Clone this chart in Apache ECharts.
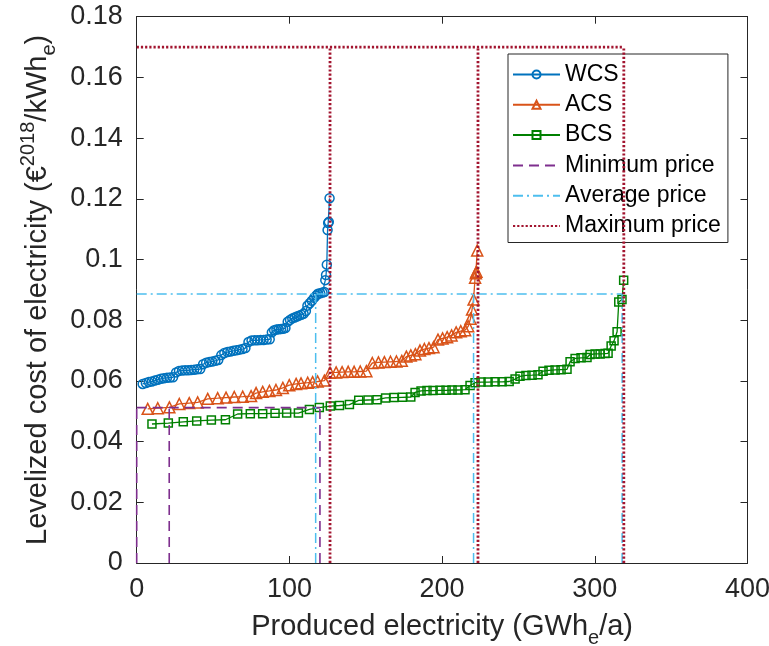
<!DOCTYPE html>
<html>
<head>
<meta charset="utf-8">
<script src="https://cdn.jsdelivr.net/npm/echarts@6/dist/echarts.min.js"></script>
<style>
html,body{margin:0;padding:0;background:#fff}
#chart{width:769px;height:646px}
</style>
</head>
<body>
<div id="chart"></div>
<script>
// Cumulative production (GWh_e/a) vs. levelized cost (EUR2018/kWh_e), one point per plant
const wcs = [
  [3.9,0.0590],[6.0,0.0593],[7.9,0.0596],[9.9,0.0598],[11.9,0.0601],[13.9,0.0604],[15.9,0.0607],
  [17.8,0.0609],[19.8,0.0610],[21.8,0.0611],[23.8,0.0612],[25.8,0.0628],[27.7,0.0633],[29.7,0.0634],
  [31.7,0.0635],[33.7,0.0635],[35.6,0.0636],[37.6,0.0637],[39.6,0.0638],[41.6,0.0639],[43.5,0.0655],
  [45.5,0.0660],[47.5,0.0662],[49.5,0.0664],[51.5,0.0666],[53.4,0.0669],[55.4,0.0685],[57.4,0.0692],
  [59.4,0.0695],[61.4,0.0697],[63.3,0.0699],[65.3,0.0701],[67.3,0.0703],[69.3,0.0705],[71.2,0.0708],
  [73.2,0.0728],[75.2,0.0733],[77.2,0.0734],[79.1,0.0734],[81.1,0.0735],[83.1,0.0735],[85.1,0.0736],
  [87.1,0.0737],[88.5,0.0760],[90.0,0.0767],[91.5,0.0769],[93.0,0.0770],[94.5,0.0771],[95.9,0.0772],
  [97.4,0.0774],[98.9,0.0795],[100.4,0.0801],[101.9,0.0806],[103.4,0.0809],[104.9,0.0812],[106.3,0.0815],
  [107.8,0.0818],[109.3,0.0821],[110.8,0.0830],[111.8,0.0848],[113.3,0.0856],[114.7,0.0864],[116.2,0.0874],
  [117.5,0.0881],[118.7,0.0887],[120.2,0.0889],[121.7,0.0891],[122.9,0.0893],[123.5,0.0932],[124.0,0.0949],
  [124.5,0.0983],[125.0,0.1097],[125.4,0.1120],[125.8,0.1124],[126.3,0.1202]
];
const acs = [
  [7.2,0.0508],[13.8,0.0510],[21.4,0.0513],[27.9,0.0524],[34.4,0.0527],[39.9,0.0529],[46.5,0.0541],
  [53.0,0.0543],[58.5,0.0545],[63.9,0.0547],[69.4,0.0548],[74.9,0.0550],[78.2,0.0560],[82.5,0.0564],
  [86.9,0.0567],[91.2,0.0570],[95.7,0.0577],[99.9,0.0586],[104.4,0.0590],[107.6,0.0592],[112.0,0.0594],
  [115.2,0.0596],[118.5,0.0598],[122.9,0.0601],[126.6,0.0627],[130.6,0.0628],[134.5,0.0629],[138.5,0.0630],
  [142.4,0.0630],[146.4,0.0631],[150.4,0.0632],[154.3,0.0659],[158.3,0.0661],[162.2,0.0662],[166.2,0.0663],
  [170.1,0.0664],[173.6,0.0666],[176.6,0.0680],[179.5,0.0684],[182.5,0.0688],[185.5,0.0700],[188.4,0.0705],
  [191.4,0.0708],[194.4,0.0711],[197.3,0.0736],[200.3,0.0740],[203.3,0.0744],[206.2,0.0750],[209.2,0.0760],
  [212.2,0.0764],[215.1,0.0767],[217.1,0.0780],[218.6,0.0805],[219.6,0.0835],[220.6,0.0868],[221.6,0.0940],
  [222.1,0.0955],[222.5,0.0960],[223.0,0.1030]
];
const bcs = [
  [10.0,0.0458],[20.7,0.0461],[30.5,0.0465],[39.3,0.0468],[48.9,0.0471],[58.1,0.0472],[66.1,0.0491],
  [74.4,0.0492],[82.5,0.0492],[90.6,0.0493],[98.2,0.0494],[105.9,0.0494],[113.1,0.0506],[119.6,0.0512],
  [126.8,0.0517],[132.8,0.0519],[139.3,0.0522],[145.4,0.0536],[151.5,0.0537],[157.4,0.0538],[163.0,0.0544],
  [168.5,0.0545],[174.0,0.0546],[179.5,0.0547],[182.3,0.0562],[186.2,0.0567],[190.1,0.0568],[194.1,0.0568],
  [198.6,0.0569],[202.6,0.0569],[206.5,0.0570],[210.4,0.0570],[215.0,0.0571],[218.3,0.0585],[221.6,0.0594],
  [225.5,0.0596],[230.1,0.0596],[234.7,0.0597],[239.3,0.0597],[243.9,0.0598],[247.8,0.0606],[251.0,0.0615],
  [254.9,0.0618],[258.9,0.0619],[262.8,0.0620],[266.1,0.0632],[270.0,0.0635],[274.0,0.0636],[277.9,0.0637],
  [281.8,0.0638],[283.8,0.0663],[287.1,0.0674],[291.0,0.0676],[294.9,0.0677],[296.9,0.0687],[300.2,0.0689],
  [303.5,0.0689],[306.7,0.0690],[308.7,0.0691],[310.7,0.0715],[312.6,0.0732],[314.6,0.0762],[315.7,0.0860],
  [317.8,0.0868],[318.9,0.0932]
];

// Electricity prices (EUR/kWh_e) and the production reached at each price by WCS, ACS, BCS
const minPrice = 0.0512;
const avgPrice = 0.0886;
const maxPrice = 0.170;
const minPriceProduction = [0, 21.3, 120.0];
const avgPriceProduction = [117.2, 220.6, 317.9];
const maxPriceProduction = [126.6, 223.5, 319.0];

const xTicks = { min: 0, max: 400, step: 100 };
const yTicks = { min: 0, max: 0.18, step: 0.02 };

const FONT = '"Liberation Sans", Arial, Helvetica, sans-serif';
const AXIS_COLOR = '#262626';

function curve(name, data, symbol, size, color) {
  return {
    name, type: 'line', data, symbol, symbolSize: size, showSymbol: true,
    lineStyle: { color, width: 1.3 },
    itemStyle: { color: 'rgba(255,255,255,0)', borderColor: color, borderWidth: 1.5 },
    emphasis: { disabled: true }, z: 3
  };
}
function priceLine(name, data, color, width, type) {
  return {
    name, type: 'line', data, symbol: 'none', clip: false,
    lineStyle: { color, width, type },
    itemStyle: { color },
    emphasis: { disabled: true }, z: 4
  };
}
// a price level: horizontal line up to the furthest production, plus a drop line per system
function priceSeries(name, level, prods, color, width, type) {
  const out = [priceLine(name, [[0, level], [Math.max(...prods), level]], color, width, type)];
  prods.forEach(p => out.push(priceLine(name, [[p, 0], [p, level]], color, width, type)));
  return out;
}

const series = [
  curve('WCS', wcs, 'circle', 9, '#0072BD'),
  curve('ACS', acs, 'triangle', 11, '#D95319'),
  curve('BCS', bcs, 'rect', 8, '#008000'),
  ...priceSeries('Minimum price', minPrice, minPriceProduction, '#7E2F8E', 1.6, [10, 6]),
  ...priceSeries('Average price', avgPrice, avgPriceProduction, '#4DBEEE', 1.5, [10, 4, 2, 4]),
  ...priceSeries('Maximum price', maxPrice, maxPriceProduction, '#A2142F', 2.8, [2.2, 2])
];

const boxAxis = {
  axisLine: { show: true, onZero: false, lineStyle: { color: AXIS_COLOR, width: 1 } },
  axisTick: { show: true, inside: true, length: 7, lineStyle: { color: AXIS_COLOR, width: 1 } },
  splitLine: { show: false }
};
const labelStyle = { fontSize: 27, color: AXIS_COLOR, fontFamily: FONT };
const richTitle = {
  t: { fontSize: 29, fontFamily: FONT, color: AXIS_COLOR },
  sup: { fontSize: 20, fontFamily: FONT, color: AXIS_COLOR, padding: [0, 0, 20, 0] },
  sub: { fontSize: 20, fontFamily: FONT, color: AXIS_COLOR, padding: [22, 0, 0, 0] }
};
const noMarker = { opacity: 0 };

const chart = echarts.init(document.getElementById('chart'), null, { renderer: 'canvas' });
chart.setOption({
  animation: false,
  backgroundColor: '#fff',
  grid: { left: 136.7, right: 21.5, top: 16.7, bottom: 83, containLabel: false, outerBoundsMode: 'none' },
  xAxis: [
    Object.assign({
      type: 'value', position: 'bottom', min: xTicks.min, max: xTicks.max, interval: xTicks.step,
      axisLabel: Object.assign({ margin: 13 }, labelStyle),
      name: '{t|Produced electricity (GWh}{sub|e}{t|/a)}',
      nameLocation: 'middle', nameGap: 43,
      nameTextStyle: { fontSize: 29, fontFamily: FONT, color: AXIS_COLOR, rich: richTitle }
    }, boxAxis),
    Object.assign({
      type: 'value', position: 'top', min: xTicks.min, max: xTicks.max, interval: xTicks.step,
      axisLabel: { show: false }
    }, boxAxis)
  ],
  yAxis: [
    Object.assign({
      type: 'value', position: 'left', min: yTicks.min, max: yTicks.max, interval: yTicks.step,
      axisLabel: Object.assign({ margin: 14, formatter: v => String(+v.toFixed(2)) }, labelStyle),
      name: '{t|Levelized cost of electricity (€}{sup|2018}{t|/kWh}{sub|e}{t|)}',
      nameLocation: 'middle', nameGap: 68, nameRotate: 90,
      nameTextStyle: { fontSize: 29, fontFamily: FONT, color: AXIS_COLOR, rich: richTitle }
    }, boxAxis),
    Object.assign({
      type: 'value', position: 'right', min: yTicks.min, max: yTicks.max, interval: yTicks.step,
      axisLabel: { show: false }
    }, boxAxis)
  ],
  legend: {
    orient: 'vertical', left: 508, top: 54,
    padding: [9, 7, 5, 4], itemGap: 7.3, itemWidth: 47, itemHeight: 10,
    backgroundColor: '#fff', borderColor: AXIS_COLOR, borderWidth: 1,
    selectedMode: false,
    textStyle: { fontSize: 23, lineHeight: 23, color: '#000', fontFamily: FONT },
    data: [
      'WCS', 'ACS', 'BCS',
      { name: 'Minimum price', itemStyle: noMarker },
      { name: 'Average price', itemStyle: noMarker },
      { name: 'Maximum price', itemStyle: noMarker }
    ]
  },
  series
});
</script>
</body>
</html>
